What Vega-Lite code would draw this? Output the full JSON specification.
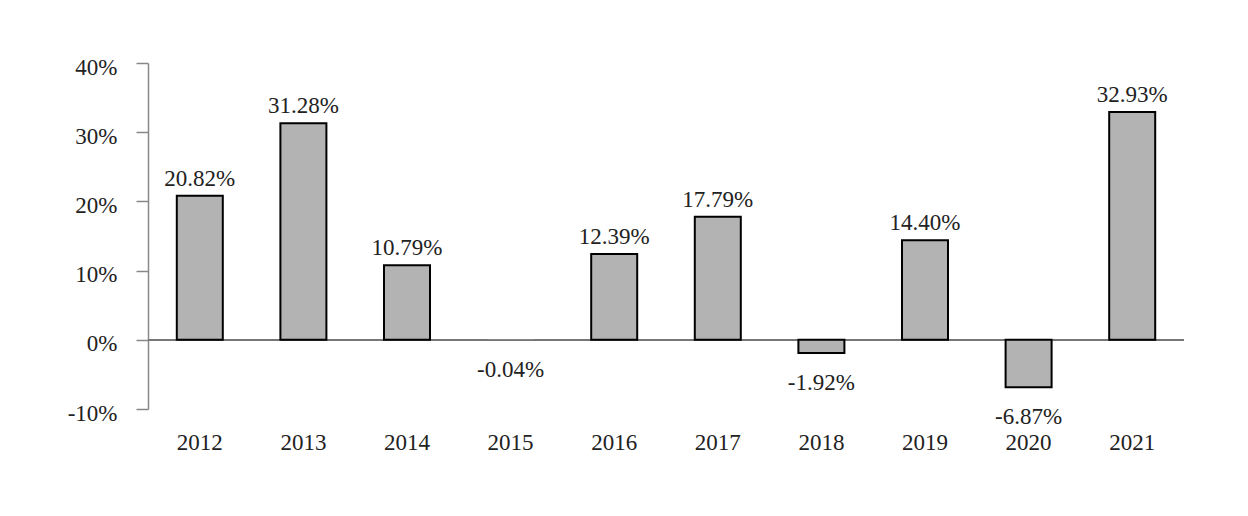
{
  "$schema": "https://vega.github.io/schema/vega-lite/v6.json",
  "width": 1036,
  "height": 346,
  "autosize": "none",
  "padding": {"left": 148, "top": 63, "right": 64, "bottom": 107},
  "background": "white",
  "config": {"view": {"stroke": null}, "font": "Liberation Serif"},
  "data": {"values": [
    {"year": "2012", "value": 20.82, "label": "20.82%"},
    {"year": "2013", "value": 31.28, "label": "31.28%"},
    {"year": "2014", "value": 10.79, "label": "10.79%"},
    {"year": "2015", "value": -0.04, "label": "-0.04%"},
    {"year": "2016", "value": 12.39, "label": "12.39%"},
    {"year": "2017", "value": 17.79, "label": "17.79%"},
    {"year": "2018", "value": -1.92, "label": "-1.92%"},
    {"year": "2019", "value": 14.40, "label": "14.40%"},
    {"year": "2020", "value": -6.87, "label": "-6.87%"},
    {"year": "2021", "value": 32.93, "label": "32.93%"}
  ]},
  "encoding": {
    "x": {
      "field": "year", "type": "ordinal", "title": null,
      "scale": {"paddingInner": 0.556, "paddingOuter": 0.278},
      "axis": {"orient": "bottom", "domain": false, "ticks": false, "labelAngle": 0,
               "labelFont": "Liberation Serif", "labelFontSize": 23, "labelColor": "#222",
               "labelPadding": 33, "labelBaseline": "middle"}
    },
    "y": {
      "field": "value", "type": "quantitative", "title": null,
      "scale": {"domain": [-10, 40], "nice": false, "zero": false},
      "axis": {"values": [-10, 0, 10, 20, 30, 40], "labelExpr": "datum.value + '%'",
               "grid": false, "domainColor": "#888", "domainWidth": 1.5,
               "tickColor": "#888", "tickWidth": 1.5, "tickSize": 12,
               "labelFont": "Liberation Serif", "labelFontSize": 23, "labelColor": "#222",
               "labelPadding": 19, "labelOffset": 4}
    }
  },
  "layer": [
    {"mark": {"type": "rule", "color": "#777", "strokeWidth": 1.5},
     "encoding": {"x": {"value": 0}, "x2": {"value": 1036}, "y": {"datum": 0}}},
    {"mark": {"type": "bar", "color": "#b3b3b3", "strokeWidth": 2},
     "encoding": {"stroke": {"condition": {"test": "abs(datum.value) < 0.1", "value": null}, "value": "#000"}}},
    {"transform": [{"filter": "datum.value >= 0"}],
     "mark": {"type": "text", "baseline": "middle", "dy": -17, "fontSize": 23, "color": "#222", "font": "Liberation Serif"},
     "encoding": {"text": {"field": "label"}}},
    {"transform": [{"filter": "datum.value < 0"}],
     "mark": {"type": "text", "baseline": "middle", "dy": 30, "fontSize": 23, "color": "#222", "font": "Liberation Serif"},
     "encoding": {"text": {"field": "label"}}}
  ]
}
